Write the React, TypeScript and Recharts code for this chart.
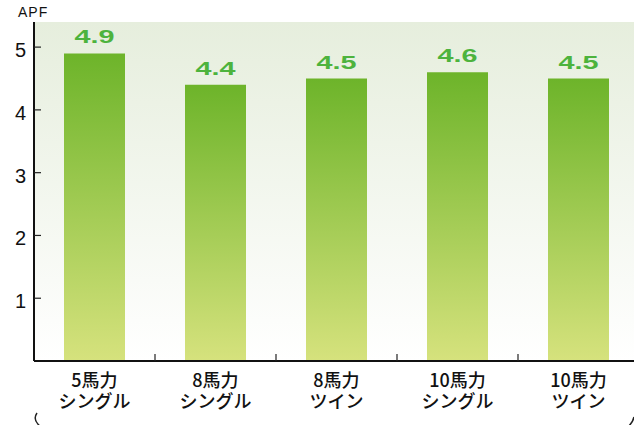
import { Bar, BarChart, CartesianGrid, LabelList, XAxis, YAxis } from 'recharts';

const models = ['5馬力', '8馬力', '8馬力', '10馬力', '10馬力'];
const types = ['シングル', 'シングル', 'ツイン', 'シングル', 'ツイン'];
const apf = [4.9, 4.4, 4.5, 4.6, 4.5];
const yTicks = [1, 2, 3, 4, 5];

const data = models.map((m, i) => ({ name: `${m}\n${types[i]}`, value: apf[i] }));

const YTick = (props: any) => {
    const { x, y, payload } = props;
    return (
        <g>
            <line x1={x} y1={y} x2={x + 7} y2={y} stroke="#222" strokeWidth={1.2} />
            <text x={x - 8} y={y + 10} textAnchor="end" fontSize={20} fill="#111"
                fontFamily="'Liberation Sans', Arial, sans-serif">
                {payload.value}
            </text>
        </g>
    );
};

const XTick = (props: any) => {
    const { x, y, payload, index } = props;
    const half = payload.offset || 60.4;
    const [line1, line2] = String(payload.value).split('\n');
    return (
        <g>
            {index > 0 && (
                <line x1={x - half} y1={y} x2={x - half} y2={y - 7} stroke="#222" strokeWidth={1.2} />
            )}
            <text textAnchor="middle" fontSize={18} fontWeight={500} fill="#111" fontFamily="'Noto Sans CJK JP', sans-serif">
                <tspan x={x} y={y + 26}>{line1}</tspan>
                <tspan x={x} y={y + 47}>{line2}</tspan>
            </text>
        </g>
    );
};

const renderValue = (props: any) => {
    const { x, y, width, value } = props;
    return (
        <text x={x + width / 2} y={y - 10} textAnchor="middle" fontSize={18} fontWeight="bold"
            fill="#4db33d" textLength={40} lengthAdjust="spacingAndGlyphs"
            fontFamily="'Liberation Sans', Arial, sans-serif">
            {Number(value).toFixed(1)}
        </text>
    );
};

export default function App() {
    return (
        <div style={{ position: 'absolute', left: 0, top: 0, width: 634, height: 425, overflow: 'hidden', background: '#fff' }}>
            <BarChart width={639} height={425} data={data} margin={{ top: 22, right: 0, left: 0, bottom: 14 }}>
                <defs>
                    <linearGradient id="bgFill" x1="0" y1="0" x2="0" y2="1">
                        <stop offset="0%" stopColor="#e6eedd" />
                        <stop offset="100%" stopColor="#ffffff" />
                    </linearGradient>
                    <linearGradient id="barFill" x1="0" y1="0" x2="0" y2="1">
                        <stop offset="0%" stopColor="#6db42a" />
                        <stop offset="100%" stopColor="#d6e27d" />
                    </linearGradient>
                </defs>
                <CartesianGrid horizontal={false} vertical={false} fill="url(#bgFill)" stroke="none" />
                <XAxis
                    dataKey="name"
                    height={50}
                    interval={0}
                    tickSize={0}
                    tickMargin={0}
                    tickLine={false}
                    axisLine={{ stroke: '#111', strokeWidth: 2 }}
                    tick={<XTick />}
                />
                <YAxis
                    width={34}
                    domain={[0, 5.4]}
                    ticks={yTicks}
                    tickSize={0}
                    tickMargin={0}
                    tickLine={false}
                    axisLine={{ stroke: '#111', strokeWidth: 2 }}
                    tick={<YTick />}
                />
                <Bar dataKey="value" barSize={61} fill="url(#barFill)" isAnimationActive={false}>
                    <LabelList dataKey="value" content={renderValue} />
                </Bar>
            </BarChart>
            <div style={{ position: 'absolute', left: 18, top: 4, fontSize: 14, letterSpacing: 1, color: '#111', fontFamily: "'Liberation Sans', Arial, sans-serif" }}>
                APF
            </div>
            <svg width={634} height={425} style={{ position: 'absolute', left: 0, top: 0, pointerEvents: 'none' }}>
                <path d="M37,413 Q32,420 41,427" fill="none" stroke="#222" strokeWidth={1.5} />
                <path d="M634,417 Q633,422 628,427" fill="none" stroke="#222" strokeWidth={1.5} />
            </svg>
        </div>
    );
}
